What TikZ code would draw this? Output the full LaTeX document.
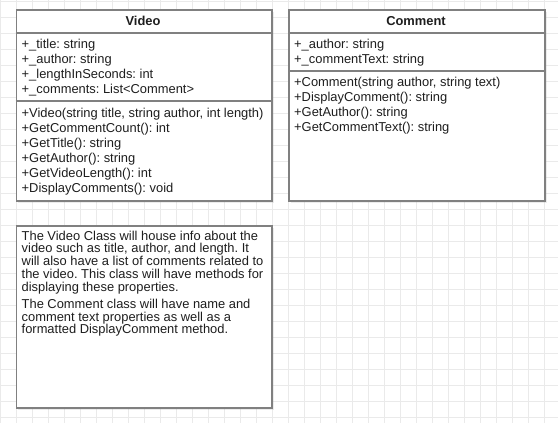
\documentclass[tikz,border=0pt]{standalone}
\usepackage{fontspec}
\setmainfont{Liberation Sans}
\usetikzlibrary{shadows}
\definecolor{boxline}{RGB}{128,128,128}
\definecolor{gridline}{RGB}{234,234,234}
\definecolor{ink}{RGB}{30,30,30}
\frenchspacing

\begin{document}
\begin{tikzpicture}[x=1pt, y=-1pt,
		    every node/.style={inner sep=0pt, text=ink},
		    classbox/.style={draw=boxline, line width=1.6pt, fill=white, anchor=north west,
		        drop shadow={opacity=0.15, shadow xshift=2pt, shadow yshift=-2pt}},
		    classname/.style={font=\bfseries\fontsize{12.9}{15}\selectfont},
		    members/.style={anchor=north west, align=left, font=\fontsize{12.9}{15}\selectfont}
		]
		\tikzset{
		    separator/.style={draw=boxline, line width=1.6pt},
		    notetext/.style={anchor=north west, align=left, font=\fontsize{12.9}{12.9}\selectfont}
		}
		% canvas and grid
		\fill[white] (0,0) rectangle (558,423);
		\useasboundingbox (0,0) rectangle (558,423);
		\foreach \gx in {0,16,...,550} \draw[gridline, line width=0.8pt] (\gx,0) -- (\gx,423);
		\foreach \gy in {1,17,...,420} \draw[gridline, line width=0.8pt] (0,\gy) -- (558,\gy);
		% Video class
		\node[classbox, minimum width=255.5pt, minimum height=191pt] (video) at (15.5,9) {};
		\node[classname] (videoname) at (143,21) {Video};
		\draw[separator] (15.5,33) -- (271,33);
		\draw[separator] (15.5,101) -- (271,101);
		\node[members] (videoattr) at (21.5,39) {+\_title: string\\+\_author: string\\+\_lengthInSeconds: int\\+\_comments: List<Comment>};
		\node[members] (videoops) at (21.5,108) {+Video(string title, string author, int length)\\+GetCommentCount(): int\\+GetTitle(): string\\+GetAuthor(): string\\+GetVideoLength(): int\\+DisplayComments(): void};
		% Comment class
		\node[classbox, minimum width=256pt, minimum height=191pt] (comment) at (288,9) {};
		\node[classname] (commentname) at (416,21) {Comment};
		\draw[separator] (288,33) -- (544,33);
		\draw[separator] (288,71) -- (544,71);
		\node[members] (commentattr) at (294,39) {+\_author: string\\+\_commentText: string};
		\node[members] (commentops) at (294,77) {+Comment(string author, string text)\\+DisplayComment(): string\\+GetAuthor(): string\\+GetCommentText(): string};
		% note
		\node[classbox, minimum width=255.5pt, minimum height=182pt] (note) at (15.5,225) {};
		\node[notetext] (notetxt) at (21.5,230.5) {The Video Class will house info about the\\video such as title, author, and length. It\\will also have a list of comments related to\\the video. This class will have methods for\\displaying these properties.\\[3.6pt]The Comment class will have name and\\comment text properties as well as a\\formatted DisplayComment method.};
		\end{tikzpicture}
\end{document}
